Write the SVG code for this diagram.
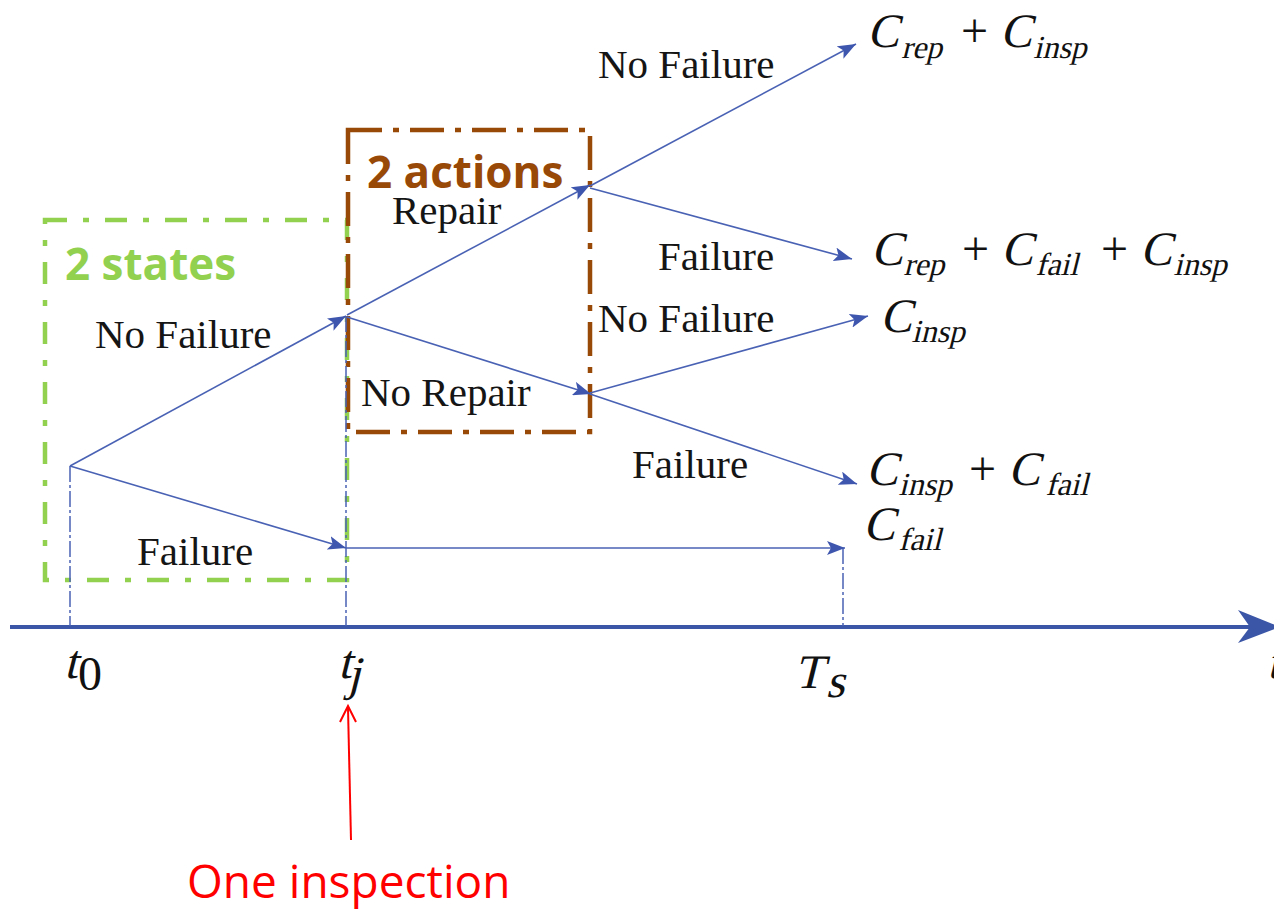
<svg xmlns="http://www.w3.org/2000/svg" width="1274" height="911" viewBox="0 0 1274 911">
<style>
.lbl{font-family:"Liberation Serif","Times New Roman",serif;font-size:41px;fill:#151515}
.m{font-family:"Liberation Serif","Times New Roman",serif;font-size:48px;fill:#111}
.sub{font-size:32px}
.br{fill:none;stroke:#4a62b4;stroke-width:1.6}
.vd{fill:none;stroke:#4a62b4;stroke-width:1.5;stroke-dasharray:16 3 3 3}
.big{font-family:"Open Sans","Liberation Sans",sans-serif;font-weight:bold;font-size:44px}
</style>
<defs>
<marker id="ah" markerUnits="userSpaceOnUse" markerWidth="20" markerHeight="14" refX="18" refY="7" orient="auto">
<path d="M0,0 L18,7 L0,14 L4,7 Z" fill="#3f56ae"/>
</marker>
</defs>
<rect width="1274" height="911" fill="#fff"/>

<g id="box-states">
<rect x="45" y="220" width="302" height="360" fill="none" stroke="#92d050" stroke-width="4.5" stroke-dasharray="22 16 6 16"/>
<text class="big" x="65" y="280" fill="#92d050">2 states</text>
</g>
<g id="box-actions">
<rect x="348" y="130" width="242" height="302" fill="none" stroke="#984807" stroke-width="4.5" stroke-dasharray="34 11 6 11"/>
<text class="big" x="367" y="188" fill="#984807">2 actions</text>
</g>

<g id="axis">
<line x1="10" y1="627" x2="1250" y2="627" stroke="#3b56a6" stroke-width="4"/>
<path d="M1238,610 L1280,627 L1238,643 L1250,627 Z" fill="#3b56a6"/>
</g>

<g id="connectors">
<line class="vd" x1="70" y1="466" x2="70" y2="626"/>
<line class="vd" x1="346" y1="316" x2="346" y2="626"/>
<line class="vd" x1="843" y1="548" x2="843" y2="626"/>
<line class="br" x1="70" y1="466" x2="346" y2="316" marker-end="url(#ah)"/>
<line class="br" x1="70" y1="466" x2="346" y2="548" marker-end="url(#ah)"/>
<line class="br" x1="346" y1="548" x2="845" y2="548" marker-end="url(#ah)"/>
<line class="br" x1="347" y1="315" x2="590" y2="185" marker-end="url(#ah)"/>
<line class="br" x1="347" y1="317" x2="591" y2="394" marker-end="url(#ah)"/>
<line class="br" x1="590" y1="186" x2="856" y2="44" marker-end="url(#ah)"/>
<line class="br" x1="590" y1="188" x2="852" y2="259" marker-end="url(#ah)"/>
<line class="br" x1="590" y1="393" x2="868" y2="316" marker-end="url(#ah)"/>
<line class="br" x1="590" y1="394" x2="857" y2="484" marker-end="url(#ah)"/>
</g>

<g id="edge-labels">
<text class="lbl" x="95" y="348">No Failure</text>
<text class="lbl" x="137" y="565">Failure</text>
<text class="lbl" x="392" y="224" font-size="39">Repair</text>
<text class="lbl" x="361" y="406">No Repair</text>
<text class="lbl" x="598" y="78">No Failure</text>
<text class="lbl" x="658" y="270">Failure</text>
<text class="lbl" x="598" y="332">No Failure</text>
<text class="lbl" x="632" y="478">Failure</text>
</g>

<g id="out-1">
<g transform="translate(0,47) skewX(-14)"><text class="m"><tspan x="867" y="0">C</tspan><tspan class="sub" x="904" y="11">rep</tspan><tspan x="1000" y="0">C</tspan><tspan class="sub" x="1036" y="11">insp</tspan></text></g>
<text class="m" x="961" y="47">+</text>
</g>
<g id="out-2">
<g transform="translate(0,265) skewX(-14)"><text class="m"><tspan x="871" y="0">C</tspan><tspan class="sub" x="906" y="10">rep</tspan><tspan x="1001" y="0">C</tspan><tspan class="sub" x="1038" y="10">fail</tspan><tspan x="1140" y="0">C</tspan><tspan class="sub" x="1176" y="10">insp</tspan></text></g>
<text class="m" x="962" y="265">+</text>
<text class="m" x="1101" y="265">+</text>
</g>
<g id="out-3">
<g transform="translate(0,332) skewX(-14)"><text class="m"><tspan x="880" y="0">C</tspan><tspan class="sub" x="914" y="10">insp</tspan></text></g>
</g>
<g id="out-4">
<g transform="translate(0,485) skewX(-14)"><text class="m"><tspan x="866" y="0">C</tspan><tspan class="sub" x="901" y="10">insp</tspan><tspan x="1008" y="0">C</tspan><tspan class="sub" x="1048" y="10">fail</tspan></text></g>
<text class="m" x="969" y="485">+</text>
</g>
<g id="out-5">
<g transform="translate(0,540) skewX(-14)"><text class="m"><tspan x="863" y="0">C</tspan><tspan class="sub" x="901" y="10">fail</tspan></text></g>
</g>

<g id="ticks">
<g transform="translate(0,678) skewX(-14)"><text class="m" font-size="44" x="64" y="0">t</text></g>
<text class="m" font-size="30" x="78" y="690">0</text>
<g transform="translate(0,678) skewX(-14)"><text class="m" font-size="44" x="338" y="0">t</text><text class="m" font-size="30" x="350" y="12">j</text></g>
<g transform="translate(0,688) skewX(-14)"><text class="m" x="794" y="0">T</text><text class="m" font-size="28" x="828" y="9">s</text></g>
<g transform="translate(0,678) skewX(-14)"><text class="m" font-size="44" x="1267" y="0">t</text></g>
</g>

<g id="inspection">
<line x1="351" y1="840" x2="348" y2="708" stroke="#ff0000" stroke-width="2"/>
<polyline points="340,722 348,706 356,722" fill="none" stroke="#ff0000" stroke-width="2"/>
<text x="187" y="898" font-family="'Open Sans','Liberation Sans',sans-serif" font-size="46" fill="#ff0000">One inspection</text>
</g>
</svg>
